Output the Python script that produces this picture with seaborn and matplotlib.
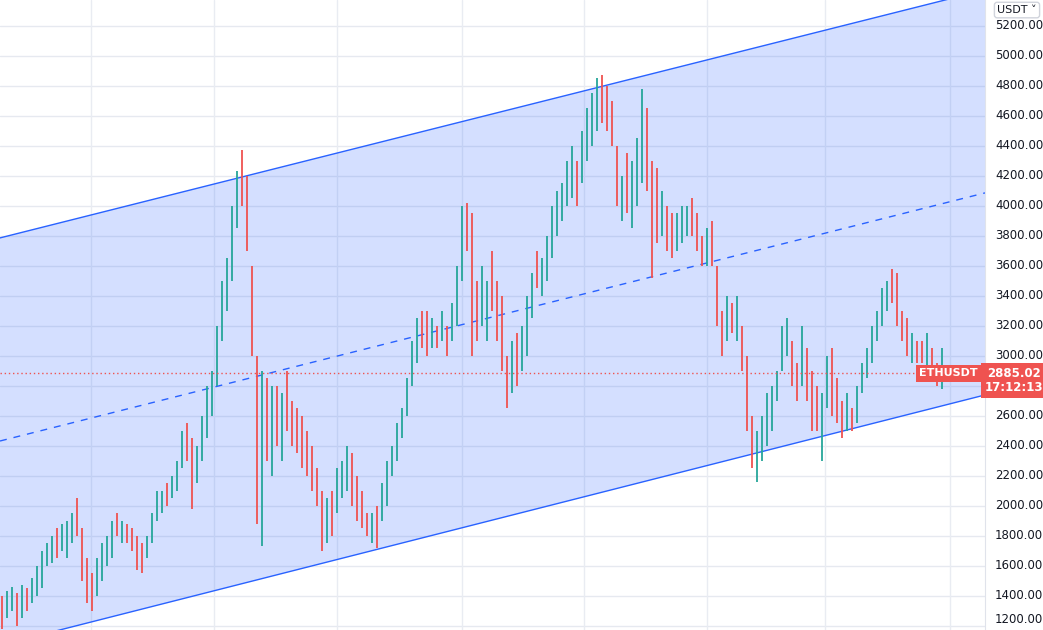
import numpy as np
import pandas as pd
import matplotlib
matplotlib.use("Agg")
import matplotlib.pyplot as plt
import seaborn as sns

# high / low of each bar, one bar every 5 px of the original chart
highs = [1400, 1430, 1460, 1420, 1470, 1450, 1520, 1600, 1700, 1750,
         1800, 1850, 1880, 1900, 1950, 2050, 1850, 1650, 1550, 1650,
         1750, 1800, 1900, 1950, 1900, 1880, 1850, 1800, 1750, 1800,
         1950, 2100, 2100, 2150, 2200, 2300, 2500, 2550, 2450, 2400,
         2600, 2800, 2900, 3200, 3500, 3650, 4000, 4230, 4370, 4200,
         3600, 3000, 2900, 2850, 2800, 2800, 2750, 2900, 2700, 2650,
         2600, 2500, 2400, 2250, 2100, 2050, 2100, 2250, 2300, 2400,
         2350, 2200, 2100, 1950, 1950, 2000, 2150, 2300, 2400, 2550,
         2650, 2850, 3100, 3250, 3300, 3300, 3250, 3200, 3300, 3200,
         3350, 3600, 4000, 4020, 3950, 3500, 3600, 3500, 3700, 3500,
         3400, 3000, 3100, 3150, 3200, 3400, 3550, 3700, 3650, 3800,
         4000, 4100, 4150, 4300, 4400, 4300, 4500, 4650, 4750, 4850,
         4870, 4800, 4700, 4400, 4200, 4350, 4300, 4450, 4780, 4650,
         4300, 4250, 4100, 4000, 3950, 3950, 4000, 4000, 4050, 3950,
         3800, 3850, 3900, 3600, 3300, 3400, 3350, 3400, 3200, 3000,
         2600, 2500, 2600, 2750, 2800, 2900, 3200, 3250, 3100, 2950,
         3200, 3050, 2900, 2800, 2750, 3000, 3050, 2850, 2700, 2750,
         2650, 2800, 2950, 3050, 3200, 3300, 3450, 3500, 3580, 3550,
         3300, 3250, 3150, 3100, 3100, 3150, 3050, 2950, 3050]
lows = [1180, 1250, 1300, 1200, 1250, 1300, 1350, 1400, 1450, 1600,
        1620, 1650, 1700, 1650, 1750, 1800, 1500, 1350, 1300, 1400,
        1500, 1600, 1650, 1800, 1750, 1750, 1700, 1570, 1550, 1650,
        1750, 1900, 1950, 2000, 2050, 2100, 2250, 2300, 1980, 2150,
        2300, 2450, 2600, 2800, 3100, 3300, 3500, 3850, 4000, 3700,
        3000, 1880, 1730, 2300, 2200, 2400, 2300, 2500, 2400, 2350,
        2250, 2200, 2100, 2000, 1700, 1750, 1800, 1950, 2050, 2100,
        2000, 1900, 1850, 1800, 1750, 1720, 1900, 2000, 2200, 2300,
        2450, 2600, 2800, 2950, 3050, 3000, 3050, 3050, 3100, 3000,
        3100, 3200, 3500, 3700, 3000, 3100, 3200, 3100, 3300, 3100,
        2900, 2650, 2750, 2800, 2900, 3000, 3250, 3450, 3400, 3500,
        3650, 3800, 3900, 4000, 4050, 4000, 4150, 4300, 4400, 4500,
        4550, 4500, 4400, 4000, 3900, 3950, 3850, 4000, 4150, 4100,
        3520, 3750, 3800, 3700, 3650, 3700, 3750, 3800, 3800, 3700,
        3600, 3600, 3600, 3200, 3000, 3100, 3150, 3100, 2900, 2500,
        2250, 2160, 2300, 2400, 2500, 2700, 2900, 3000, 2800, 2700,
        2800, 2700, 2500, 2500, 2300, 2650, 2600, 2550, 2450, 2500,
        2500, 2550, 2750, 2850, 2950, 3100, 3200, 3300, 3350, 3200,
        3100, 3000, 2950, 2950, 2950, 2900, 2850, 2800, 2780]
directions = ("rggrgrgggg" "grgggrrrrg" "gggrgrrrrg" "gggrgggrrg" "ggggggggrr"
              "rrgrgrgrrr" "rrrrrgrggg" "rrrrgrgggg" "ggggrrgrgr" "gggrrrggrr"
              "rrgrgggrgg" "gggggrgggg" "rrrrgrgggr" "rrgrrgggrr" "rgrrrgrgrr"
              "rgggggggrr" "grrrggrrrg" "rgggggggrr" "rrgrrgrrg")

# channel (x in px of the original, price)
upper_line = [(0, 3787), (985, 5440)]
lower_line = [(0, 1072), (985, 2740)]
mid_line = [(0, 2433), (985, 4087)]
last_price = 2885.02
price_ticks = [1200, 1400, 1600, 1800, 2000, 2200, 2400, 2600, 2800, 3000, 3200,
               3400, 3600, 3800, 4000, 4200, 4400, 4600, 4800, 5000, 5200]
hidden_tick = 2800  # covered by the last-price label
time_grid = [91, 214, 337, 462, 584, 707, 825, 950]

bars = pd.DataFrame({"x": 2 + 5 * np.arange(len(highs)), "high": highs, "low": lows,
                     "dir": list(directions)})

sns.set_style("white")
plt.rcParams['font.family'] = ['DejaVu Sans']

fig = plt.figure(figsize=(10.43, 6.30), dpi=100)
ax = fig.add_axes([0, 0, 985 / 1043, 1])
ax.set_xlim(0, 985)
ax.set_ylim(1173, 5373)

for p in price_ticks:
    ax.axhline(p, color="#e6e9f0", lw=1, zorder=1)
for x in time_grid:
    ax.axvline(x, color="#e9ecf2", lw=1, zorder=1)

xs = np.array([0, 985])
up = np.array([upper_line[0][1], upper_line[1][1]])
lo = np.array([lower_line[0][1], lower_line[1][1]])
ax.fill_between(xs, lo, up, color="#2962ff", alpha=0.2, lw=0, zorder=2)
sns.lineplot(x=xs, y=up, color="#2962ff", lw=1, ax=ax, zorder=3)
sns.lineplot(x=xs, y=lo, color="#2962ff", lw=1, ax=ax, zorder=3)
sns.lineplot(x=xs, y=[mid_line[0][1], mid_line[1][1]], color="#2962ff", lw=1,
             ax=ax, zorder=3, linestyle=(0, (5, 5)))

palette = {"g": "#26a69a", "r": "#ef5350"}
for d, grp in bars.groupby("dir"):
    ax.vlines(grp["x"], grp["low"], grp["high"], color=palette[d], lw=1.3, zorder=4)

ax.axhline(last_price, color="#ef5350", lw=1, linestyle=(0, (1, 2)), zorder=5)
ax.text(978, last_price, "ETHUSDT", ha="right", va="center", color="white",
        fontsize=8, fontweight="bold", zorder=6,
        bbox=dict(boxstyle="square,pad=0.3", fc="#ef5350", ec="none"))

ax.set_xticks([])
ax.set_yticks([])
for s in ["top", "left", "bottom"]:
    ax.spines[s].set_visible(False)
ax.spines["right"].set_color("#e0e3eb")

# price scale on the right
for p in price_ticks:
    if p == hidden_tick:
        continue
    y = (p - 1173) / (5373 - 1173)
    fig.text(995 / 1043, max(y, 0.004), f"{p:.2f}", ha="left",
             va="center" if p > 1200 else "bottom", fontsize=8.5, color="#131722")
yl = (last_price - 1173) / (5373 - 1173)
fig.text(1014 / 1043, yl - 0.012, "2885.02\n17:12:13", ha="center", va="center",
         fontsize=8.5, color="white", fontweight="bold", linespacing=1.1,
         bbox=dict(boxstyle="square,pad=0.35", fc="#ef5350", ec="none"))
fig.text(1017 / 1043, 0.992, "USDT \u02c5", ha="center", va="top", fontsize=8,
         color="#131722",
         bbox=dict(boxstyle="round,pad=0.25", fc="white", ec="#d1d4dc"))

fig.savefig("out.png", dpi=100)
